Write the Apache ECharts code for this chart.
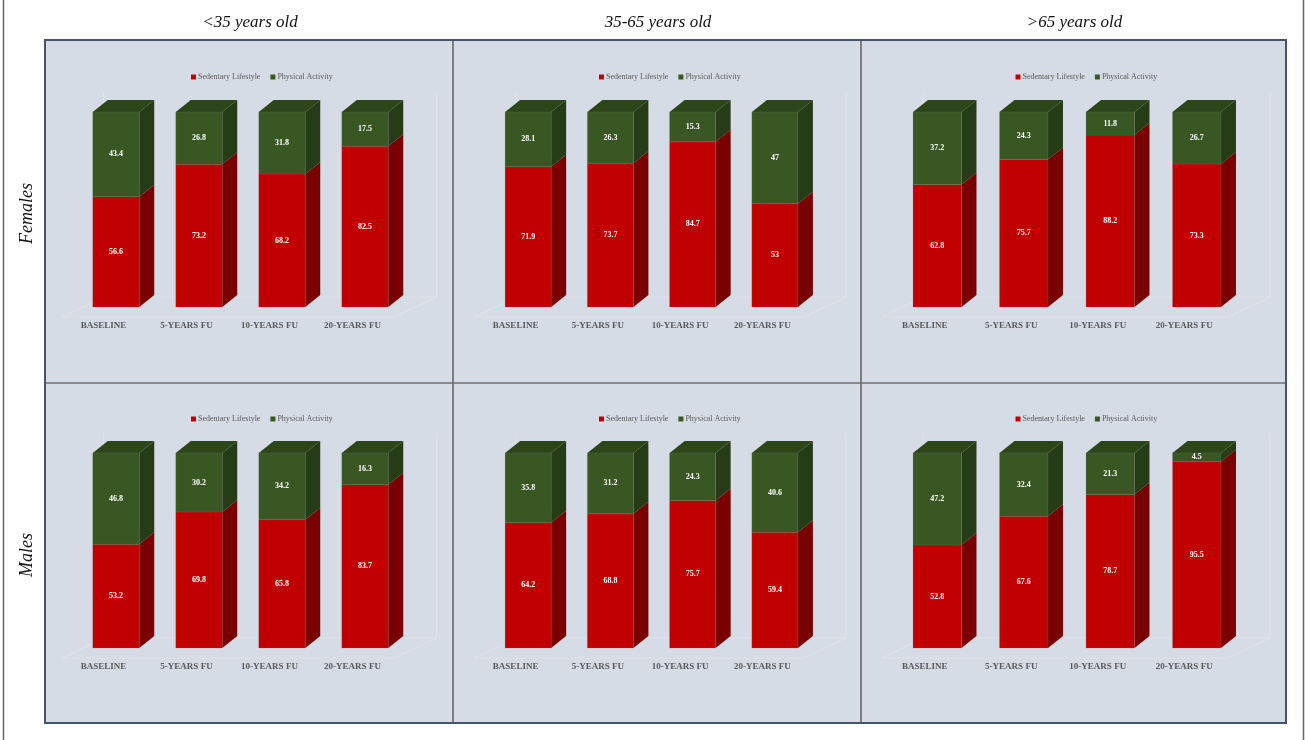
<!DOCTYPE html>
<html>
<head>
<meta charset="utf-8">
<script src="https://cdn.jsdelivr.net/npm/echarts@6/dist/echarts.min.js"></script>
<style>html,body{margin:0;padding:0;background:#fff}#c{width:1306px;height:740px}</style>
</head>
<body>
<div id="c"></div>
<script>
// ---- data ----
const categories = ['BASELINE', '5-YEARS FU', '10-YEARS FU', '20-YEARS FU'];
const ageGroups = ['<35 years old', '35-65 years old', '>65 years old'];
const sexes = ['Females', 'Males'];
const seriesNames = ['Sedentary Lifestyle', 'Physical Activity'];

const femalesUnder35Sed = [56.6, 73.2, 68.2, 82.5];
const femalesUnder35Act = [43.4, 26.8, 31.8, 17.5];
const females35to65Sed = [71.9, 73.7, 84.7, 53];
const females35to65Act = [28.1, 26.3, 15.3, 47];
const femalesOver65Sed = [62.8, 75.7, 88.2, 73.3];
const femalesOver65Act = [37.2, 24.3, 11.8, 26.7];
const malesUnder35Sed = [53.2, 69.8, 65.8, 83.7];
const malesUnder35Act = [46.8, 30.2, 34.2, 16.3];
const males35to65Sed = [64.2, 68.8, 75.7, 59.4];
const males35to65Act = [35.8, 31.2, 24.3, 40.6];
const malesOver65Sed = [52.8, 67.6, 78.7, 95.5];
const malesOver65Act = [47.2, 32.4, 21.3, 4.5];

const panels = [
  [femalesUnder35Sed, femalesUnder35Act], [females35to65Sed, females35to65Act], [femalesOver65Sed, femalesOver65Act],
  [malesUnder35Sed, malesUnder35Act], [males35to65Sed, males35to65Act], [malesOver65Sed, malesOver65Act]
];

// ---- layout ----
const colGrid = [{left: 74.5, width: 332}, {left: 487, width: 329}, {left: 894, width: 346}];
const rowGrid = [{top: 112, height: 195}, {top: 453, height: 195}];
const panelX = [45, 453, 861, 1286];
const panelY = [40, 383, 723];
const legendTop = [68, 410];
const SERIF = '"Liberation Serif","Times New Roman",serif';
const RED = '#C00000', RED_SIDE = '#7A0000';
const GREEN = '#385723', GREEN_SIDE = '#263C17', GREEN_TOP = '#2D4619';
const DX = 15, DY = 12;

const chart = echarts.init(document.getElementById('c'), null, {renderer: 'canvas'});

const grids = [], xAxes = [], yAxes = [], series = [], legends = [];
for (let r = 0; r < 2; r++) {
  for (let c = 0; c < 3; c++) {
    const g = r * 3 + c;
    grids.push({left: colGrid[c].left, width: colGrid[c].width, top: rowGrid[r].top, height: rowGrid[r].height, containLabel: false});
    xAxes.push({
      type: 'category', gridIndex: g, data: categories,
      axisLine: {show: false}, axisTick: {show: false}, splitLine: {show: false},
      axisLabel: {margin: 14, fontFamily: SERIF, fontWeight: 'bold', fontSize: 9, color: '#595959', padding: [0, 25, 0, 0]}
    });
    yAxes.push({type: 'value', gridIndex: g, min: 0, max: 100, show: false, splitLine: {show: false}});
    const center = (panelX[c] + panelX[c + 1]) / 2 + 3;
    legends.push({
      data: seriesNames, left: center - 66, top: legendTop[r], itemWidth: 5, itemHeight: 5, itemGap: 10,
      icon: 'rect', textStyle: {fontFamily: SERIF, fontSize: 8, color: '#595959', padding: [0, 0, 0, -3]}
    });
    const [sed, act] = panels[g];
    const data = categories.map((cat, i) => [i, sed[i], act[i]]);
    // floor decoration
    series.push({
      type: 'custom', xAxisIndex: g, yAxisIndex: g, data: [[0, 0, 0]], silent: true, z: 1,
      renderItem: (params, api) => {
        const cs = params.coordSys;
        const base = cs.y + cs.height;
        const st = {stroke: 'rgba(255,255,255,0.22)', lineWidth: 1, fill: null};
        return {type: 'group', children: [
          {type: 'polyline', shape: {points: [[cs.x - 12, base + 10], [cs.x + cs.width - 12, base + 10], [cs.x + cs.width + 30, base - 10]]}, style: st},
          {type: 'polyline', shape: {points: [[cs.x - 12, base + 10], [cs.x + 29, base - 10], [cs.x + cs.width + 30, base - 10]]}, style: st},
          {type: 'line', shape: {x1: cs.x + 29, y1: base - 10, x2: cs.x + 29, y2: cs.y - 20}, style: st},
          {type: 'line', shape: {x1: cs.x + cs.width + 30, y1: base - 10, x2: cs.x + cs.width + 30, y2: cs.y - 20}, style: st}
        ]};
      }
    });
    series.push({
      name: seriesNames[0], type: 'custom', xAxisIndex: g, yAxisIndex: g, data: data, z: 3,
      itemStyle: {color: RED},
      renderItem: (params, api) => {
        const i = api.value(0), v = api.value(1);
        const p0 = api.coord([i, 0]), p1 = api.coord([i, v]);
        const w = api.size([1, 0])[0] * 0.56;
        const x0 = p0[0] - w / 2, x1 = p0[0] + w / 2;
        return {type: 'group', children: [
          {type: 'polygon', shape: {points: [[x1, p0[1]], [x1 + DX, p0[1] - DY], [x1 + DX, p1[1] - DY], [x1, p1[1]]]}, style: {fill: RED_SIDE}},
          {type: 'rect', shape: {x: x0, y: p1[1], width: w, height: p0[1] - p1[1]}, style: {fill: RED, stroke: 'rgba(120,120,120,0.35)', lineWidth: 0.6}},
          {type: 'text', x: p0[0], y: (p0[1] + p1[1]) / 2, style: {text: String(v), fill: '#ffffff', fontFamily: SERIF, fontSize: 8, fontWeight: 'bold', align: 'center', verticalAlign: 'middle'}}
        ]};
      }
    });
    series.push({
      name: seriesNames[1], type: 'custom', xAxisIndex: g, yAxisIndex: g, data: data, z: 4,
      itemStyle: {color: GREEN},
      renderItem: (params, api) => {
        const i = api.value(0), s = api.value(1), v = api.value(2);
        const p0 = api.coord([i, s]), p1 = api.coord([i, s + v]);
        const w = api.size([1, 0])[0] * 0.56;
        const cx = p0[0], x0 = cx - w / 2, x1 = cx + w / 2;
        return {type: 'group', children: [
          {type: 'polygon', shape: {points: [[x1, p0[1]], [x1 + DX, p0[1] - DY], [x1 + DX, p1[1] - DY], [x1, p1[1]]]}, style: {fill: GREEN_SIDE}},
          {type: 'polygon', shape: {points: [[x0, p1[1]], [x0 + DX, p1[1] - DY], [x1 + DX, p1[1] - DY], [x1, p1[1]]]}, style: {fill: GREEN_TOP}},
          {type: 'rect', shape: {x: x0, y: p1[1], width: w, height: p0[1] - p1[1]}, style: {fill: GREEN, stroke: 'rgba(120,120,120,0.35)', lineWidth: 0.6}},
          {type: 'text', x: cx, y: (p0[1] + p1[1]) / 2, style: {text: String(v), fill: '#ffffff', fontFamily: SERIF, fontSize: 8, fontWeight: 'bold', align: 'center', verticalAlign: 'middle'}}
        ]};
      }
    });
  }
}

// ---- decorations: panels, borders, titles ----
const graphics = [];
graphics.push({type: 'rect', z: -10, shape: {x: panelX[0], y: panelY[0], width: panelX[3] - panelX[0], height: panelY[2] - panelY[0]}, style: {fill: '#D6DCE5'}});
graphics.push({type: 'line', z: 50, shape: {x1: panelX[1], y1: panelY[0], x2: panelX[1], y2: panelY[2]}, style: {stroke: '#7F7F7F', lineWidth: 2}});
graphics.push({type: 'line', z: 50, shape: {x1: panelX[2], y1: panelY[0], x2: panelX[2], y2: panelY[2]}, style: {stroke: '#7F7F7F', lineWidth: 2}});
graphics.push({type: 'line', z: 50, shape: {x1: panelX[0], y1: panelY[1], x2: panelX[3], y2: panelY[1]}, style: {stroke: '#6F6F6F', lineWidth: 1.5}});
graphics.push({type: 'rect', z: 60, shape: {x: panelX[0], y: panelY[0], width: panelX[3] - panelX[0], height: panelY[2] - panelY[0]}, style: {fill: null, stroke: '#44546A', lineWidth: 2}});
graphics.push({type: 'line', z: 60, shape: {x1: 3.5, y1: 0, x2: 3.5, y2: 740}, style: {stroke: '#666666', lineWidth: 1.5}});
graphics.push({type: 'line', z: 60, shape: {x1: 1303.5, y1: 0, x2: 1303.5, y2: 740}, style: {stroke: '#666666', lineWidth: 1.5}});
ageGroups.forEach((t, c) => {
  graphics.push({type: 'text', z: 60, x: (panelX[c] + panelX[c + 1]) / 2 + 1, y: 23,
    style: {text: t, fill: '#111111', fontFamily: SERIF, fontStyle: 'italic', fontSize: 17, align: 'center', verticalAlign: 'middle'}});
});
sexes.forEach((t, r) => {
  graphics.push({type: 'text', z: 60, x: 27, y: (panelY[r] + panelY[r + 1]) / 2 + 2, rotation: Math.PI / 2,
    style: {text: t, fill: '#111111', fontFamily: SERIF, fontStyle: 'italic', fontSize: 18, align: 'center', verticalAlign: 'middle'}});
});

chart.setOption({
  animation: false,
  backgroundColor: '#ffffff',
  grid: grids, xAxis: xAxes, yAxis: yAxes, legend: legends, series: series,
  graphic: {elements: graphics}
});
</script>
</body>
</html>
